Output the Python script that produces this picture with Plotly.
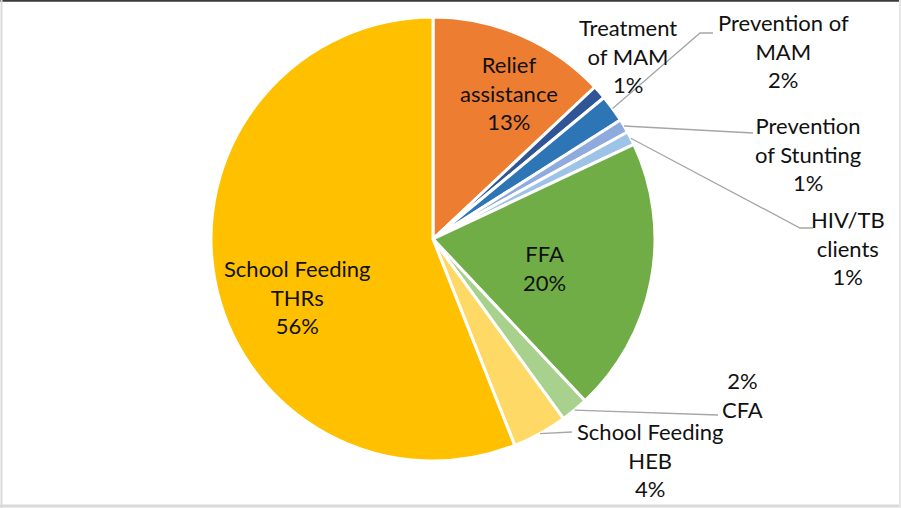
import math
import plotly.graph_objects as go

W, H = 901, 508

# Programme share of beneficiaries (per cent), clockwise from 12 o'clock
categories = ["Relief assistance", "Treatment of MAM", "Prevention of MAM",
              "Prevention of Stunting", "HIV/TB clients", "FFA", "CFA",
              "School Feeding HEB", "School Feeding THRs"]
values = [13, 1, 2, 1, 1, 20, 2, 4, 56]
name_lines = [["Relief", "assistance"], ["Treatment", "of MAM"], ["Prevention of", "MAM"],
              ["Prevention", "of Stunting"], ["HIV/TB", "clients"], ["FFA"], ["CFA"],
              ["School Feeding", "HEB"], ["School Feeding", "THRs"]]
colors = ["#ED7D31", "#2F5597", "#2E75B6", "#8FAADC", "#9DC3E6",
          "#70AD47", "#A9D18E", "#FFD966", "#FFC000"]

# Pie geometry in pixels
CX, CY, R = 433, 239, 222

# Label placement (pixel centre of each text block) and leader-line end points
label_pos = [(509, 93), (628, 56), (783, 51), (808, 154), (848, 248),
             (544, 268), (742, 395), (650, 460), (297, 297)]
leader_end = {2: [(700, 33), (713, 33)], 3: [(753, 133)], 4: [(800, 228), (813, 228)],
              6: [(718, 415)], 7: [(572, 432)]}


def px(x):
    return x / W


def py(y):
    return 1 - y / H


fig = go.Figure(go.Pie(
    labels=categories, values=values, sort=False, direction="clockwise", rotation=0,
    marker=dict(colors=colors, line=dict(color="white", width=3)),
    textinfo="none", hoverinfo="label+percent", showlegend=False,
    domain=dict(x=[px(CX - R), px(CX + R)], y=[py(CY + R), py(CY - R)]),
))

total = sum(values)
annotations = []
shapes = []
cum = 0
for i, v in enumerate(values):
    mid = (cum + v / 2) / total * 2 * math.pi
    cum += v
    pct = f"{v}%"
    lines = [pct] + name_lines[i] if categories[i] == "CFA" else name_lines[i] + [pct]
    lx, ly = label_pos[i]
    annotations.append(dict(
        x=px(lx), y=py(ly), xref="paper", yref="paper", text="<br>".join(lines),
        showarrow=False, xanchor="center", yanchor="middle", align="center",
        font=dict(family="Lato, Open Sans, sans-serif", size=22, color="#111111"),
    ))
    if i in leader_end:
        pts = [(CX + R * math.sin(mid), CY - R * math.cos(mid))] + leader_end[i]
        path = "M " + " L ".join(f"{px(x):.5f},{py(y):.5f}" for x, y in pts)
        shapes.append(dict(type="path", path=path, xref="paper", yref="paper",
                           line=dict(color="#A6A6A6", width=1.3)))

# Chart frame
shapes += [
    dict(type="line", xref="paper", yref="paper", x0=0, x1=1, y0=py(0.8), y1=py(0.8),
         line=dict(color="#3A3A3A", width=2)),
    dict(type="line", xref="paper", yref="paper", x0=px(1.5), x1=px(1.5), y0=0, y1=1,
         line=dict(color="#D9D9D9", width=2)),
    dict(type="line", xref="paper", yref="paper", x0=0, x1=1, y0=py(506), y1=py(506),
         line=dict(color="#D9D9D9", width=3)),
    dict(type="line", xref="paper", yref="paper", x0=px(900), x1=px(900), y0=0, y1=1,
         line=dict(color="#E6E6E6", width=2)),
]

fig.update_layout(
    width=W, height=H, margin=dict(l=0, r=0, t=0, b=0),
    paper_bgcolor="white", plot_bgcolor="white",
    annotations=annotations, shapes=shapes,
)

fig.write_html("out.html")
